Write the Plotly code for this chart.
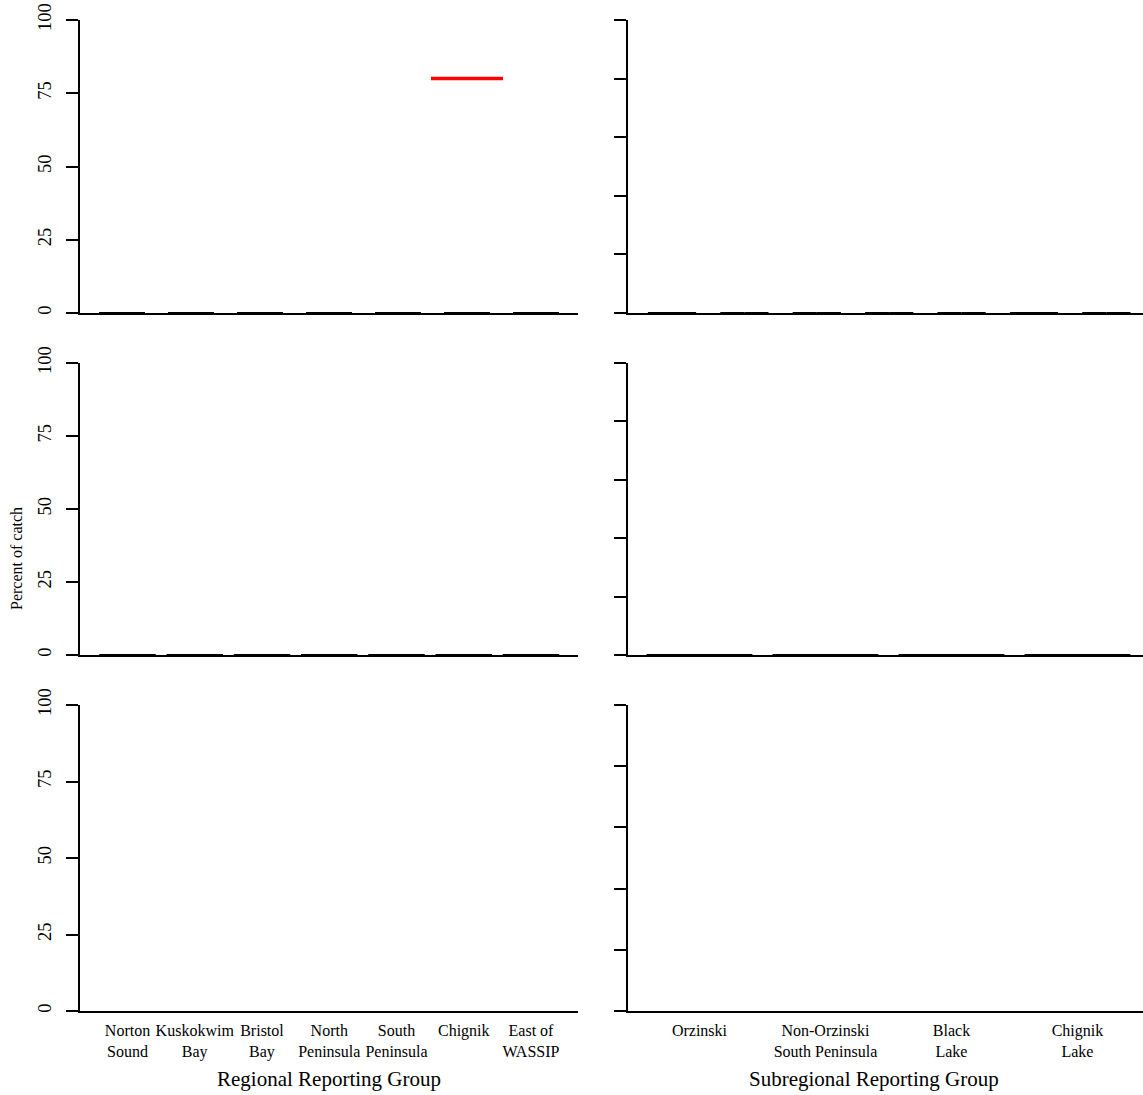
import plotly.graph_objects as go

# ---------------- data ----------------
regions = ["Norton Sound", "Kuskokwim Bay", "Bristol Bay", "North Peninsula",
           "South Peninsula", "Chignik", "East of WASSIP"]
region_ticktext = ["Norton<br>Sound", "Kuskokwim<br>Bay", "Bristol<br>Bay",
                   "North<br>Peninsula", "South<br>Peninsula", "Chignik", "East of<br>WASSIP"]
subregions = ["Orzinski", "Non-Orzinski South Peninsula", "Black Lake", "Chignik Lake"]
subregion_ticktext = ["Orzinski", "Non-Orzinski<br>South Peninsula", "Black<br>Lake", "Chignik<br>Lake"]

# row 1 (grouped pairs of estimates, all zero) and true value line
row1_left_a = [0, 0, 0, 0, 0, 0, 0]
row1_left_b = [0, 0, 0, 0, 0, 0, 0]
row1_left_true = [None, None, None, None, None, 80, None]
row1_right_a = [0, 0, 0, 0, 0, 0, 0]
row1_right_b = [0, 0, 0, 0, 0, 0, 0]
# row 2
row2_left = [0, 0, 0, 0, 0, 0, 0]
row2_right = [0, 0, 0, 0]

left_ticks = [0, 25, 50, 75, 100]
right_ticks = [0, 20, 40, 60, 80, 100]

# ---------------- layout helpers ----------------
W, H = 1143, 1095
FONT = "Liberation Serif"


def px_x(p):
    return p / W


def px_y(p):
    return 1 - p / H


fig = go.Figure()


def seg_trace(values, offset, width, xa, ya, color="black", lw=2.0):
    xs, ys = [], []
    for i, v in enumerate(values):
        if v is None:
            continue
        c = i + offset
        xs += [c - width / 2, c + width / 2, None]
        ys += [v, v, None]
    fig.add_trace(go.Scatter(x=xs, y=ys, mode="lines", xaxis=xa, yaxis=ya,
                             line=dict(color=color, width=lw), showlegend=False,
                             hoverinfo="skip"))


# row 1 left: two sub-bars per group
seg_trace(row1_left_a, -1 / 6, 1 / 3, "x", "y")
seg_trace(row1_left_b, 1 / 6, 1 / 3, "x", "y")
seg_trace(row1_left_true, 0, 1.044, "x", "y", color="#FF0000", lw=3.5)
# row 1 right
seg_trace(row1_right_a, -1 / 6, 1 / 3, "x2", "y2")
seg_trace(row1_right_b, 1 / 6, 1 / 3, "x2", "y2")
# row 2
seg_trace(row2_left, 0, 0.84, "x3", "y3")
seg_trace(row2_right, 0, 0.84, "x4", "y4")
# row 3 (empty panels, keep axes alive)
fig.add_trace(go.Scatter(x=[None], y=[None], xaxis="x5", yaxis="y5", showlegend=False))
fig.add_trace(go.Scatter(x=[None], y=[None], xaxis="x6", yaxis="y6", showlegend=False))

LEFT_DOM = [px_x(80), px_x(578)]
RIGHT_DOM = [px_x(628), 1.0]
ROWS = [(20, 313), (363, 655), (705, 1011)]

xranges = {
    1: [-0.609, 6.609],
    2: [-0.608, 6.506],
    3: [-0.706, 6.699],
    4: [-0.567, 3.52],
    5: [-0.706, 6.699],
    6: [-0.567, 3.52],
}

tickfont = dict(family=FONT, size=18.5, color="black")
catfont = dict(family=FONT, size=16, color="black")

layout = dict(
    width=W, height=H,
    margin=dict(l=0, r=0, t=0, b=0, autoexpand=False),
    paper_bgcolor="white", plot_bgcolor="white",
    showlegend=False,
    font=dict(family=FONT, color="black"),
)

for k in range(1, 7):
    row = (k - 1) // 2
    is_left = (k % 2 == 1)
    top, bot = ROWS[row]
    xname = "xaxis" if k == 1 else f"xaxis{k}"
    yname = "yaxis" if k == 1 else f"yaxis{k}"
    ysuf = "y" if k == 1 else f"y{k}"
    xsuf = "x" if k == 1 else f"x{k}"
    xa = dict(domain=LEFT_DOM if is_left else RIGHT_DOM, anchor=ysuf,
              range=xranges[k], showgrid=False, zeroline=False, automargin=False,
              showline=True, linecolor="black", linewidth=2,
              ticks="", showticklabels=False, fixedrange=True)
    if row == 2:
        if is_left:
            xa.update(tickmode="array", tickvals=list(range(len(regions))),
                      ticktext=region_ticktext, showticklabels=True, tickfont=catfont,
                      ticklabelstandoff=4)
        else:
            xa.update(tickmode="array", tickvals=list(range(len(subregions))),
                      ticktext=subregion_ticktext, showticklabels=True, tickfont=catfont,
                      ticklabelstandoff=4)
    ya = dict(domain=[px_y(bot), px_y(top)], anchor=xsuf, range=[0, 100],
              showgrid=False, zeroline=False, showline=True, linecolor="black",
              linewidth=2, ticks="outside", ticklen=12, tickwidth=2, automargin=False,
              tickcolor="black", fixedrange=True)
    if is_left:
        ya.update(tickmode="array", tickvals=left_ticks,
                  ticktext=[str(t) for t in left_ticks], tickangle=-90,
                  tickfont=tickfont, ticklabelstandoff=8)
    else:
        ya.update(tickmode="array", tickvals=right_ticks, showticklabels=False)
    layout[xname] = xa
    layout[yname] = ya

fig.update_layout(**layout)

annotations = [
    dict(text="Regional Reporting Group", x=px_x(329), y=px_y(1079),
         xref="paper", yref="paper", showarrow=False,
         font=dict(family=FONT, size=21, color="black"), xanchor="center", yanchor="middle"),
    dict(text="Subregional Reporting Group", x=px_x(874), y=px_y(1079),
         xref="paper", yref="paper", showarrow=False,
         font=dict(family=FONT, size=21, color="black"), xanchor="center", yanchor="middle"),
    dict(text="Percent of catch", x=px_x(16), y=px_y(559), textangle=-90,
         xref="paper", yref="paper", showarrow=False,
         font=dict(family=FONT, size=16, color="black"), xanchor="center", yanchor="middle"),
]
fig.update_layout(annotations=annotations)

fig.write_html("out.html", config={"displayModeBar": False},
               post_script="document.body.style.margin='0px';document.body.style.overflow='hidden';")
